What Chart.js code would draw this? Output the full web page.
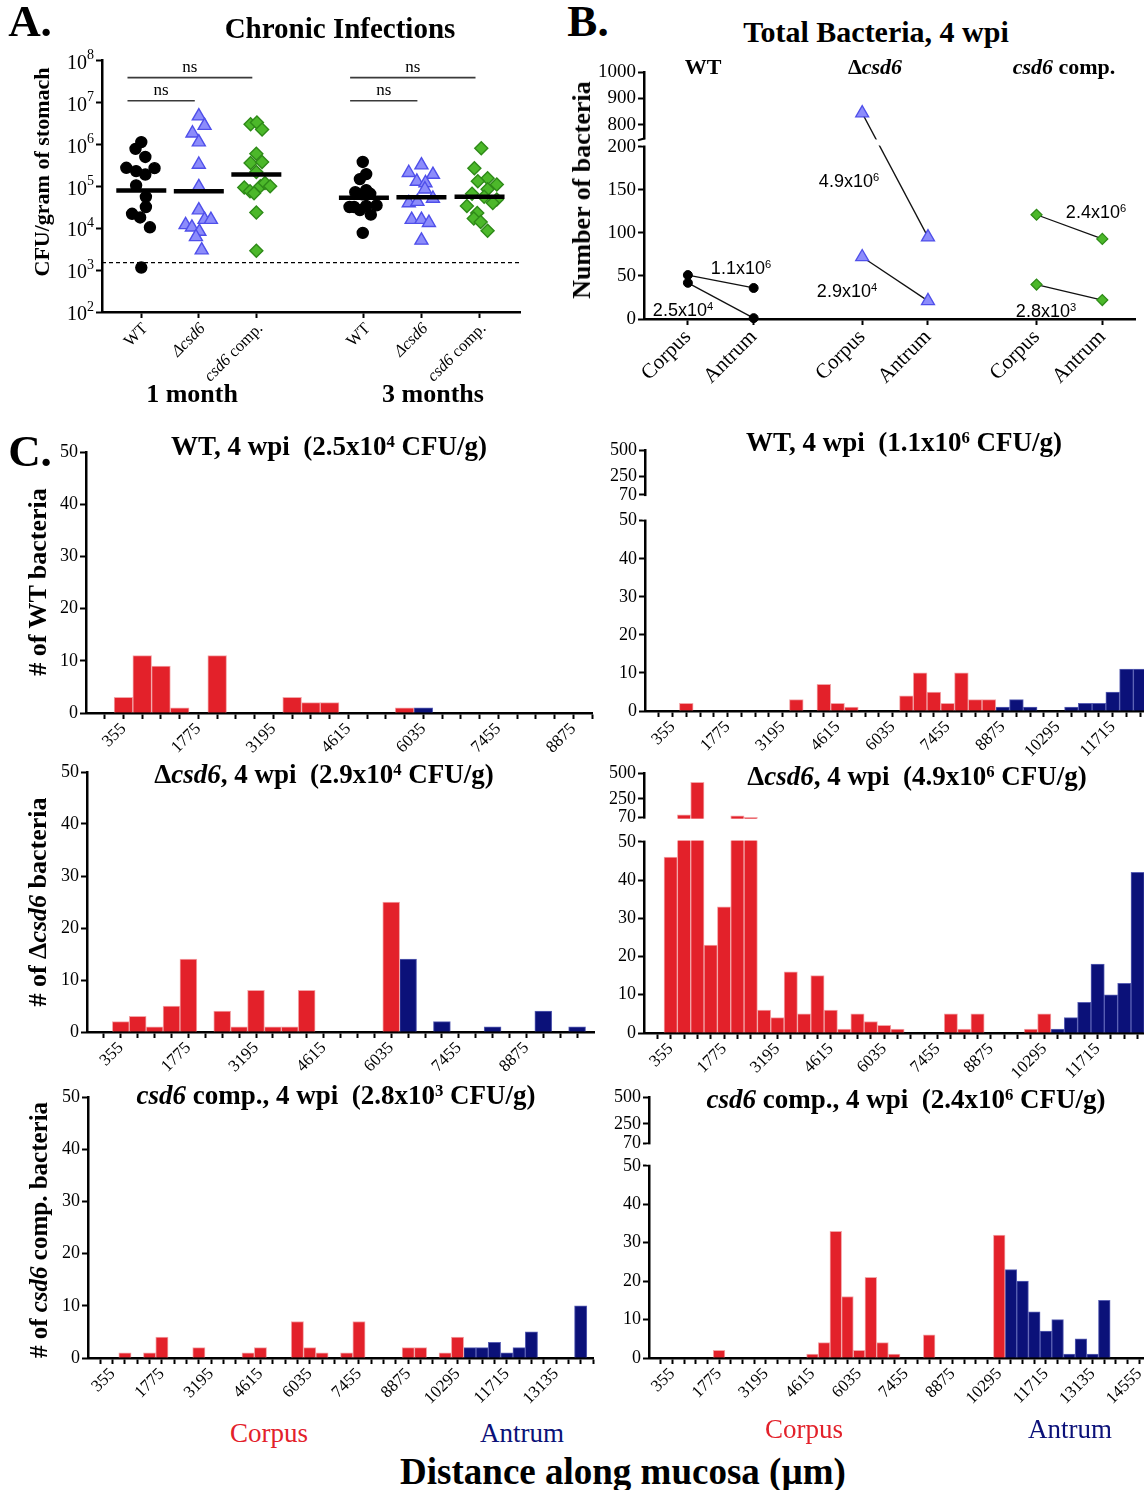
<!DOCTYPE html>
<html><head><meta charset="utf-8">
<script src="https://cdn.jsdelivr.net/npm/chart.js@4.4.1/dist/chart.umd.min.js"></script>
<style>
html,body{margin:0;padding:0;background:#fff;}
body{position:relative;width:1144px;height:1490px;overflow:hidden;font-family:"Liberation Serif","Times New Roman",serif;color:#000;}
canvas{position:absolute;}
.t{position:absolute;white-space:nowrap;transform:translate(-50%,-50%);line-height:1;}
.b{font-weight:bold;}
.r{transform:translate(-50%,-50%) rotate(-90deg);}
sup{font-size:62%;position:relative;top:-0.5em;vertical-align:baseline;line-height:0;}
.s{font-family:"Liberation Sans",Arial,sans-serif;}
</style></head><body>
<script>
// ---------------- DATA ----------------
// Panel A: CFU/gram of stomach (each value one mouse) with horizontal scatter offsets
const A_GROUPS = ['WT','Δcsd6','csd6 comp.','WT','Δcsd6','csd6 comp.'];
const A_WT1    = [1.13e6,7.8e5,5.0e5,2.76e5,2.3e5,2.7e5,1.9e5,1.05e5,5.6e4,3.2e4,2.2e4,1.8e4,1.05e4,1.15e3];
const A_WT1_J  = [0,-0.10,0.07,-0.26,-0.09,0.23,0.07,-0.09,0.08,0.08,-0.16,-0.02,0.15,0];
const A_DEL1   = [4.7e6,2.8e6,1.84e6,1.13e6,3.3e5,9.7e4,2.7e4,1.6e4,1.6e4,1.2e4,1.05e4,8.3e3,6.2e3,3.0e3];
const A_DEL1_J = [0,0.10,-0.11,0,0,0,0,0.10,0.21,-0.23,-0.12,0.01,-0.05,0.05];
const A_COMP1  = [3.0e6,3.3e6,2.26e6,6.0e5,3.6e5,3.8e5,2.2e5,9.3e4,7.6e4,6.8e4,1.0e5,1.2e5,1.0e5,2.35e4,2.9e3];
const A_COMP1_J= [-0.10,0.01,0.10,0,-0.10,0.10,0,-0.21,-0.11,-0.04,0.07,0.15,0.24,0,0];
const A_WT3    = [3.8e5,1.95e5,1.48e5,7.2e4,8.1e4,6.4e4,6.6e4,3.2e4,3.2e4,2.7e4,3.4e4,3.5e4,2.1e4,7.7e3];
const A_WT3_J  = [-0.02,0.04,-0.07,-0.15,0.04,-0.03,0.11,-0.25,-0.17,-0.07,0.04,0.22,0.12,-0.02];
const A_DEL3   = [3.2e5,2.1e5,1.9e5,1.3e5,1.2e5,8.5e4,5.1e4,4.0e4,4.3e4,1.6e4,1.6e4,1.35e4,5.1e3];
const A_DEL3_J = [0,-0.22,0.20,-0.08,0.07,0.06,0.20,-0.22,-0.07,-0.17,0,0.13,0];
const A_COMP3  = [8.1e5,2.7e5,1.55e5,1.32e5,1.1e5,8.5e4,6.6e4,5.6e4,4.8e4,3.4e4,4.0e4,2.3e4,1.7e4,1.4e4,8.7e3];
const A_COMP3_J= [0.03,-0.09,0.14,-0.03,0.30,0.14,-0.13,0.08,0.30,-0.22,0.23,-0.04,-0.10,0.02,0.14];
const A_MEANS  = [7.9e4,7.6e4,1.9e5,5.3e4,5.5e4,5.6e4];
const A_LIMIT  = 1.5e3;
const A_Y_TICKS = [1e2,1e3,1e4,1e5,1e6,1e7,1e8];

// Panel B: total bacteria per site (two mice per strain)
const B_SITES   = ['Corpus','Antrum','Corpus','Antrum','Corpus','Antrum'];
const B_WT_A    = [42, 1];    // 2.5x10^4
const B_WT_B    = [51, 36];   // 1.1x10^6
const B_DEL_A   = [72, 21];   // 2.9x10^4
const B_DEL_B   = [845, 95];  // 4.9x10^6
const B_COMP_A  = [40, 22];   // 2.8x10^3
const B_COMP_B  = [121, 93];  // 2.4x10^6
const B_Y_TICKS = [0,50,100,150,200,800,900,1000];

// Panel C: histogram bins (µm) and counts
const BINS = [0,355,710,1065,1420,1775,2130,2485,2840,3195,3550,3905,4260,4615,4970,5325,5680,6035,6390,6745,7100,7455,7810,8165,8520,8875,9230,9585,9940,10295,10650,11005,11360,11715,12070,12425,12780,13135,13490,13845,14200,14555,14910];
const BIN_LABELS = [355,1775,3195,4615,6035,7455,8875,10295,11715,13135,14555];
const C_Y_TICKS_BROKEN = [0,10,20,30,40,50,70,250,500];

const WT_L_CORPUS = [0,3,11,9,1,0,11,0,0,0, 3,2,2,0,0,0,1,0,0,0, 0,0,0,0,0,0,0];
const WT_L_ANTRUM = [0,0,0,0,0,0,0,0,0,0, 0,0,0,0,0,0,0,1,0,0, 0,0,0,0,0,0,0];
const WT_R_CORPUS = [0,0,2,0,0,0,0,0,0,0, 3,0,7,2,1,0,0,0,4,10, 5,2,10,3,3,0,0,0,0,0, 0,0,0,0,0,0];
const WT_R_ANTRUM = [0,0,0,0,0,0,0,0,0,0, 0,0,0,0,0,0,0,0,0,0, 0,0,0,0,0,1,3,1,0,0, 1,2,2,5,11,11];
const DEL_L_CORPUS = [0,2,3,1,5,14,0,4,1,8, 1,1,8,0,0,0,0,25,0,0, 0,0,0,0,0,0,0,0,0];
const DEL_L_ANTRUM = [0,0,0,0,0,0,0,0,0,0, 0,0,0,0,0,0,0,0,14,0, 2,0,0,1,0,0,4,0,1];
const DEL_R_CORPUS = [0,46,95,410,23,33,85,72,6,4, 16,5,15,6,1,5,3,2,1,0, 0,0,5,1,5,0,0,0,1,5, 0,0,0,0,0,0,0];
const DEL_R_ANTRUM = [0,0,0,0,0,0,0,0,0,0, 0,0,0,0,0,0,0,0,0,0, 0,0,0,0,0,0,0,0,0,0, 1,4,8,18,10,13,42];
const COMP_L_CORPUS = [0,0,1,0,1,4,0,0,2,0, 0,0,1,2,0,0,7,2,1,0, 1,7,0,0,0,2,2,0,1,4, 0,0,0,0,0,0,0,0,0,0, 0];
const COMP_L_ANTRUM = [0,0,0,0,0,0,0,0,0,0, 0,0,0,0,0,0,0,0,0,0, 0,0,0,0,0,0,0,0,0,0, 2,2,3,1,2,5,0,0,0,10, 0];
const COMP_R_CORPUS = [0,0,0,0,0,2,0,0,0,0, 0,0,0,1,4,33,16,2,21,4, 1,0,0,6,0,0,0,0,0,32, 0,0,0,0,0,0,0,0,0,0, 0,0];
const COMP_R_ANTRUM = [0,0,0,0,0,0,0,0,0,0, 0,0,0,0,0,0,0,0,0,0, 0,0,0,0,0,0,0,0,0,0, 23,20,12,7,10,1,5,1,15,0, 0,0];

// ---------------- STYLE ----------------
const RED = '#E3212A', RED_EDGE = '#F3A5A8', BLUE = '#0B1179', BLUE_EDGE = '#5A60B4';
const SERIF = '"Liberation Serif", "Times New Roman", serif';
Chart.defaults.font.family = SERIF;
Chart.defaults.color = '#000';

// broken (split) linear axis
class BrokenScale extends Chart.LinearScale {
  determineDataLimits() { const b = this.options.brk; this.min = b.min; this.max = b.max; }
  buildTicks() { return this.options.brk.vals.map(v => ({value: v})); }
  _frac(v) {
    const b = this.options.brk;
    if (v <= b.lo[1]) return (v - b.lo[0]) / (b.lo[1] - b.lo[0]) * b.f1;
    if (v >= b.hi[0]) return b.f2 + (v - b.hi[0]) / (b.hi[1] - b.hi[0]) * (1 - b.f2);
    return b.f1 + (v - b.lo[1]) / (b.hi[0] - b.lo[1]) * (b.f2 - b.f1);
  }
  getPixelForValue(v) { return (v === null || v === undefined || isNaN(v)) ? NaN : this.getPixelForDecimal(this._frac(v)); }
  getValueForPixel(p) { return this.min + (this.max - this.min) * this.getDecimalForPixel(p); }
}
BrokenScale.id = 'broken';
BrokenScale.defaults = {};
Chart.register(BrokenScale);

const breakPlugin = {
  id: 'breakBand',
  afterDatasetsDraw(chart) {
    const y = chart.scales.y; const b = y.options.brk; if (!b) return;
    const ctx = chart.ctx, a = chart.chartArea;
    const pTop = y.getPixelForValue(b.hi[0]), pBot = y.getPixelForValue(b.lo[1]);
    ctx.save();
    ctx.fillStyle = '#fff';
    ctx.fillRect(a.left - 2.5, pTop + 1.2, a.right - a.left + 5, pBot - pTop - 2.4);
    if (b.cap) {
      ctx.strokeStyle = '#000'; ctx.lineWidth = 2;
      ctx.beginPath(); ctx.moveTo(a.left - 6, pTop + 2); ctx.lineTo(a.left + 1, pTop); ctx.stroke();
    }
    ctx.restore();
  }
};

function mkCanvas(area, axW, axH, padT, padR) {
  const c = document.createElement('canvas');
  const L = Math.round(area.left) - axW, T = Math.round(area.top) - padT;
  const R = Math.round(area.right) + padR, B = Math.round(area.bottom) + axH;
  c.width = R - L; c.height = B - T;
  c.style.left = L + 'px'; c.style.top = T + 'px';
  c.style.width = (R - L) + 'px'; c.style.height = (B - T) + 'px';
  document.body.appendChild(c);
  return c;
}
const gridCfg = (extra) => Object.assign({drawOnChartArea:false, color:'#000', tickLength:6, tickWidth:2, tickColor:'#000'}, extra || {});
const borderCfg = {color:'#000', width:2.5};
const baseOpts = (padT, padR) => ({
  responsive:false, animation:false, events:[],
  layout:{padding:{top:padT, right:padR, left:0, bottom:0}},
  plugins:{legend:{display:false}, tooltip:{enabled:false}, title:{display:false}}
});

function drawRich(ctx, text, size, allItalic) {
  const parts = text.split(/(Δ?csd6)/).filter(s => s.length).map(s => ({t:s, it: allItalic.test(text) ? true : /csd6/.test(s)}));
  let total = 0;
  const ws = parts.map(p => { ctx.font = (p.it ? 'italic ' : '') + size + 'px ' + SERIF; const w = ctx.measureText(p.t).width; total += w; return w; });
  let xx = -total;
  parts.forEach((p, k) => { ctx.font = (p.it ? 'italic ' : '') + size + 'px ' + SERIF; ctx.fillText(p.t, xx, 0); xx += ws[k]; });
}

// ---------------- PANEL A ----------------
(function(){
  const area = {left:101.5, right:538, top:45, bottom:312};
  const axW = 62, axH = 80, padT = 14, padR = 12;
  const c = mkCanvas(area, axW, axH, padT, padR);
  const POS = [1, 2, 3, 4.87, 5.87, 6.88];
  const XMIN = 0.317, XMAX = 7.592;
  const groups = [[A_WT1,A_WT1_J],[A_DEL1,A_DEL1_J],[A_COMP1,A_COMP1_J],[A_WT3,A_WT3_J],[A_DEL3,A_DEL3_J],[A_COMP3,A_COMP3_J]];
  const sty = [
    {pointStyle:'circle', r:5.5, bg:'#000000', bd:'#000000'},
    {pointStyle:'triangle', r:7.5, bg:'#8C8CFB', bd:'#4F4FEA'},
    {pointStyle:'rectRot', r:6.5, bg:'#4CB82A', bd:'#2E8A18'}
  ];
  const ds = [];
  ds.push({label:'mean', data: A_MEANS.map((m,g) => ({x:POS[g], y:m})), pointStyle:'line', pointRadius:25, pointBorderWidth:4.5, pointBorderColor:'#000', showLine:false, order:0, clip:false});
  groups.forEach(([vals, jit], g) => {
    const s = sty[g % 3];
    ds.push({label:A_GROUPS[g], data: vals.map((v,k) => ({x:POS[g] + jit[k], y:v})), pointStyle:s.pointStyle, pointRadius:s.r,
      pointBackgroundColor:s.bg, pointBorderColor:s.bd, pointBorderWidth:1.4, showLine:false, order:1, clip:false});
  });
  const NS = [[0,2,3.9e7],[0,1,1.1e7],[3,5,3.9e7],[3,4,1.1e7]];
  NS.forEach(([a,b,lvl]) => ds.push({label:'ns', data:[{x:POS[a]-0.24,y:lvl},{x:POS[b]-0.07,y:lvl}], showLine:true, borderColor:'#3a3a3a', borderWidth:1.6, pointRadius:0, order:2}));
  ds.push({label:'limit', data:[{x:XMIN,y:A_LIMIT},{x:XMAX,y:A_LIMIT}], showLine:true, borderColor:'#000', borderWidth:1.3, borderDash:[4,3], pointRadius:0, order:2});

  const textPlugin = {
    id:'aText',
    afterDraw(chart) {
      const ctx = chart.ctx, x = chart.scales.x, y = chart.scales.y, a = chart.chartArea;
      ctx.save(); ctx.fillStyle = '#000'; ctx.textBaseline = 'middle';
      A_Y_TICKS.forEach(v => {
        const py = y.getPixelForValue(v);
        const e = String(Math.round(Math.log10(v)));
        ctx.font = '14px ' + SERIF; ctx.textAlign = 'right';
        const ew = ctx.measureText(e).width;
        ctx.fillText(e, a.left - 8, py - 5);
        ctx.font = '20px ' + SERIF;
        ctx.fillText('10', a.left - 8 - ew, py + 3);
      });
      ctx.textAlign = 'left';
      A_GROUPS.forEach((lab, g) => {
        const px = x.getPixelForValue(POS[g]);
        ctx.save(); ctx.translate(px + 4, a.bottom + 14); ctx.rotate(-Math.PI / 4);
        drawRich(ctx, lab, 16.5, /^Δ/);
        ctx.restore();
      });
      ctx.font = '17px ' + SERIF; ctx.textAlign = 'center'; ctx.textBaseline = 'bottom';
      NS.forEach(([p,q,lvl]) => {
        const x1 = x.getPixelForValue(POS[p]-0.24), x2 = x.getPixelForValue(POS[q]-0.07);
        ctx.fillText('ns', (x1 + x2) / 2, y.getPixelForValue(lvl) - 2);
      });
      ctx.restore();
    }
  };

  new Chart(c, {
    type:'scatter',
    data:{datasets:ds},
    options:Object.assign(baseOpts(padT, padR), {
      scales:{
        x:{type:'linear', min:XMIN, max:XMAX, grid:gridCfg(), border:borderCfg,
           afterBuildTicks:s => { s.ticks = POS.map(v => ({value:v})); },
           ticks:{callback:() => '', autoSkip:false},
           afterFit:s => { s.height = axH; s.paddingLeft = 0; s.paddingRight = 0; }},
        y:{type:'logarithmic', min:1e2, max:1e8, grid:gridCfg(), border:borderCfg,
           afterBuildTicks:s => { s.ticks = A_Y_TICKS.map(v => ({value:v})); },
           ticks:{callback:() => ''},
           afterFit:s => { s.width = axW; s.paddingTop = 0; s.paddingBottom = 0; }}
      }
    }),
    plugins:[textPlugin]
  });
})();

// ---------------- PANEL B ----------------
(function(){
  const area = {left:644, right:1144, top:72, bottom:319};
  const axW = 62, axH = 70, padT = 14, padR = 0;
  const c = mkCanvas(area, axW, axH, padT, padR);
  const POS = [1, 2, 3.65, 4.65, 6.30, 7.30];
  const circ = {pointStyle:'circle', pointRadius:4.5, pointBackgroundColor:'#000', pointBorderColor:'#000', pointBorderWidth:1};
  const tri  = {pointStyle:'triangle', pointRadius:7.5, pointBackgroundColor:'#8C8CFB', pointBorderColor:'#4F4FEA', pointBorderWidth:1.3};
  const dia  = {pointStyle:'rectRot', pointRadius:5.5, pointBackgroundColor:'#4CB82A', pointBorderColor:'#2E8A18', pointBorderWidth:1.2};
  const mk = (vals, g, st) => Object.assign({data: vals.map((v,k) => ({x:POS[2*g+k], y:v})), borderColor:'#111', borderWidth:1.3, clip:false}, st);
  new Chart(c, {
    type:'line',
    data:{datasets:[mk(B_WT_A,0,circ), mk(B_WT_B,0,circ), mk(B_DEL_A,1,tri), mk(B_DEL_B,1,tri), mk(B_COMP_A,2,dia), mk(B_COMP_B,2,dia)]},
    options:Object.assign(baseOpts(padT, padR), {
      scales:{
        x:{type:'linear', min:0.333, max:7.8, grid:gridCfg(), border:borderCfg,
           afterBuildTicks:s => { s.ticks = POS.map(v => ({value:v})); },
           ticks:{callback:(v,i) => B_SITES[i], autoSkip:false, maxRotation:45, minRotation:45, font:{size:21}, padding:0},
           afterFit:s => { s.height = axH; s.paddingLeft = 0; s.paddingRight = 0; }},
        y:{type:'broken', brk:{min:0, max:1000, lo:[0,200], hi:[750,1000], f1:0.6976, f2:0.7318, vals:B_Y_TICKS, cap:true},
           grid:gridCfg(), border:borderCfg,
           ticks:{callback:v => String(v), font:{size:19}, padding:2},
           afterFit:s => { s.width = axW; s.paddingTop = 0; s.paddingBottom = 0; }}
      }
    }),
    plugins:[breakPlugin]
  });
})();

// ---------------- PANEL C ----------------
function makeHist(area, corpus, antrum, padEnd, brk) {
  const axW = 46, axH = 58, padT = 10, padR = 3;
  const c = mkCanvas(area, axW, axH, padT, padR);
  const n = corpus.length;
  const labels = [''];
  for (let i = 0; i < n; i++) labels.push(BIN_LABELS.includes(BINS[i]) ? String(BINS[i]) : '');
  if (padEnd) labels.push('');
  const pad = arr => [null].concat(arr, padEnd ? [null] : []);
  const last = labels.length - 1;
  const yScale = brk
    ? {type:'broken', brk:Object.assign({min:0, max:500, lo:[0,50], hi:[70,500], vals:C_Y_TICKS_BROKEN}, brk)}
    : {type:'linear', min:0, max:50, ticks:{stepSize:10}};
  yScale.ticks = Object.assign(yScale.ticks || {}, {font:{size:18}, padding:2, callback:v => String(v)});
  new Chart(c, {
    type:'bar',
    data:{labels, datasets:[
      {label:'Corpus', data:pad(corpus), backgroundColor:RED, borderColor:RED_EDGE, borderWidth:1, borderSkipped:'bottom', categoryPercentage:1, barPercentage:1},
      {label:'Antrum', data:pad(antrum), backgroundColor:BLUE, borderColor:BLUE_EDGE, borderWidth:1, borderSkipped:'bottom', categoryPercentage:1, barPercentage:1}
    ]},
    options:Object.assign(baseOpts(padT, padR), {
      scales:{
        x:Object.assign({stacked:true, offset:false, z:1, border:borderCfg,
           grid:gridCfg({offset:false, tickColor:ctx => (ctx.index === 0 || (padEnd && ctx.index === last)) ? 'rgba(0,0,0,0)' : '#000'}),
           ticks:{autoSkip:false, maxRotation:45, minRotation:45, font:{size:17}, padding:0},
           afterFit:s => { s.height = axH; s.paddingLeft = 0; s.paddingRight = 0; }}),
        y:Object.assign(yScale, {stacked:true, grid:gridCfg(), border:borderCfg,
           afterFit:s => { s.width = axW; s.paddingTop = 0; s.paddingBottom = 0; }})
      }
    }),
    plugins:[breakPlugin]
  });
}
makeHist({left:85.5, right:591.5, top:452, bottom:713}, WT_L_CORPUS, WT_L_ANTRUM, false, null);
makeHist({left:645, right:1154, top:450, bottom:711}, WT_R_CORPUS, WT_R_ANTRUM, true, {f1:0.729, f2:0.828});
makeHist({left:87, right:594, top:772, bottom:1032}, DEL_L_CORPUS, DEL_L_ANTRUM, true, null);
makeHist({left:644, right:1150.5, top:773, bottom:1033}, DEL_R_CORPUS, DEL_R_ANTRUM, true, {f1:0.7355, f2:0.829});
makeHist({left:88, right:593, top:1097, bottom:1358}, COMP_L_CORPUS, COMP_L_ANTRUM, false, null);
makeHist({left:649, right:1151, top:1097, bottom:1357.5}, COMP_R_CORPUS, COMP_R_ANTRUM, true, {f1:0.736, f2:0.823});
</script>

<!-- panel letters & titles -->
<div class="t b" style="left:30px;top:21px;font-size:45px">A.</div>
<div class="t b" style="left:588px;top:21px;font-size:45px">B.</div>
<div class="t b" style="left:30px;top:451px;font-size:45px">C.</div>
<div class="t b" style="left:340px;top:28px;font-size:29px">Chronic Infections</div>
<div class="t b" style="left:876px;top:32px;font-size:30px">Total Bacteria, 4 wpi</div>
<div class="t b r" style="left:42px;top:172px;font-size:22px">CFU/gram of stomach</div>
<div class="t b" style="left:192px;top:394px;font-size:26px">1 month</div>
<div class="t b" style="left:433px;top:394px;font-size:26px">3 months</div>

<div class="t b" style="left:703px;top:67px;font-size:22px">WT</div>
<div class="t b" style="left:875px;top:67px;font-size:22px">Δ<i>csd6</i></div>
<div class="t b" style="left:1064px;top:67px;font-size:22px"><i>csd6</i> comp.</div>
<div class="t b r" style="left:582px;top:190px;font-size:26px">Number of bacteria</div>
<div class="t s" style="left:683px;top:310px;font-size:18px">2.5x10<sup>4</sup></div>
<div class="t s" style="left:741px;top:268px;font-size:18px">1.1x10<sup>6</sup></div>
<div class="t s" style="left:849px;top:181px;font-size:18px">4.9x10<sup>6</sup></div>
<div class="t s" style="left:847px;top:291px;font-size:18px">2.9x10<sup>4</sup></div>
<div class="t s" style="left:1096px;top:212px;font-size:18px">2.4x10<sup>6</sup></div>
<div class="t s" style="left:1046px;top:311px;font-size:18px">2.8x10<sup>3</sup></div>

<div class="t b" style="left:329px;top:446px;font-size:27px">WT, 4 wpi&nbsp; (2.5x10<sup>4</sup> CFU/g)</div>
<div class="t b" style="left:904px;top:442px;font-size:27px">WT, 4 wpi&nbsp; (1.1x10<sup>6</sup> CFU/g)</div>
<div class="t b" style="left:324px;top:774px;font-size:27px">Δ<i>csd6</i>, 4 wpi&nbsp; (2.9x10<sup>4</sup> CFU/g)</div>
<div class="t b" style="left:917px;top:776px;font-size:27px">Δ<i>csd6</i>, 4 wpi&nbsp; (4.9x10<sup>6</sup> CFU/g)</div>
<div class="t b" style="left:336px;top:1095px;font-size:27px"><i>csd6</i> comp., 4 wpi&nbsp; (2.8x10<sup>3</sup> CFU/g)</div>
<div class="t b" style="left:906px;top:1099px;font-size:27px"><i>csd6</i> comp., 4 wpi&nbsp; (2.4x10<sup>6</sup> CFU/g)</div>
<div class="t b r" style="left:38px;top:582px;font-size:26px"># of WT bacteria</div>
<div class="t b r" style="left:38px;top:902px;font-size:26px"># of Δ<i>csd6</i> bacteria</div>
<div class="t b r" style="left:38px;top:1230px;font-size:25px"># of <i>csd6</i> comp. bacteria</div>
<div class="t" style="left:269px;top:1433px;font-size:27px;color:#E3212A">Corpus</div>
<div class="t" style="left:522px;top:1433px;font-size:27px;color:#0B1179">Antrum</div>
<div class="t" style="left:804px;top:1429px;font-size:27px;color:#E3212A">Corpus</div>
<div class="t" style="left:1070px;top:1429px;font-size:27px;color:#0B1179">Antrum</div>
<div class="t b" style="left:623px;top:1471px;font-size:37px">Distance along mucosa (µm)</div>
</body></html>
